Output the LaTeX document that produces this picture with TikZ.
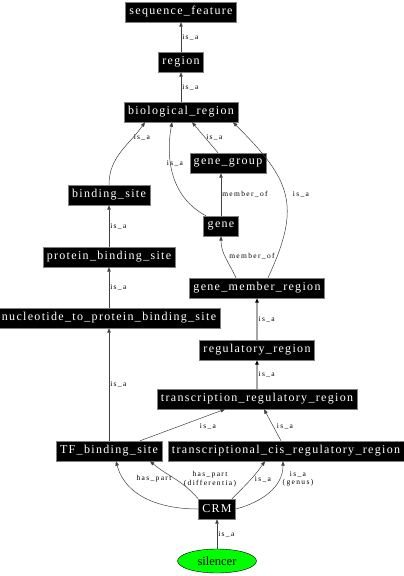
\documentclass[tikz,border=0pt]{standalone}
\usepackage{fontspec}
\setmainfont{Liberation Serif}
\newfontfamily\termfont[LetterSpace=11]{Liberation Serif}
\newfontfamily\relfont[LetterSpace=18]{Liberation Serif}
\usetikzlibrary{arrows.meta,shapes.geometric}

\begin{document}
\begin{tikzpicture}[
    x=1pt, y=-1pt,
    >={Triangle[length=4.5pt,width=3.5pt]},
    term/.style={fill=black, draw=gray, text=white, font=\termfont\fontsize{12}{14}\selectfont,
      inner xsep=4pt, inner ysep=0pt, minimum height=20pt},
    leaf/.style={ellipse, fill=green, draw=black, text=black, font=\rmfamily\fontsize{12.5}{14}\selectfont,
      minimum width=79pt, minimum height=24pt, inner sep=0pt},
    lab/.style={font=\relfont\fontsize{7.5}{8.5}\selectfont, inner sep=1pt, align=center},
    edge/.style={->, draw=black!75, line width=0.5pt},
    hiedge/.style={-{Triangle[length=4.5pt,width=3.5pt,black]}, draw=black!35, line width=1.4pt}
  ]
    \useasboundingbox (0,0) rectangle (404,576);
    % terms
    \node[term] (sf) at (181,12) {sequence\_feature};
    \node[term] (reg) at (181,62) {region};
    \node[term] (bio) at (181,112) {biological\_region};
    \node[term] (bs) at (109,195) {binding\_site};
    \node[term] (gg) at (228,163) {gene\_group};
    \node[term] (gene) at (221,226) {gene};
    \node[term] (pbs) at (109,257) {protein\_binding\_site};
    \node[term] (gmr) at (257,288) {gene\_member\_region};
    \node[term] (ntpbs) at (109,318) {nucleotide\_to\_protein\_binding\_site};
    \node[term] (rr) at (257,350) {regulatory\_region};
    \node[term] (trr) at (257,399) {transcription\_regulatory\_region};
    \node[term] (tfbs) at (109,451) {TF\_binding\_site};
    \node[term] (tcrr) at (286,451) {transcriptional\_cis\_regulatory\_region};
    \node[term] (crm) at (217,509) {CRM};
    \node[leaf] (sil) at (217,561) {silencer};
    % relations
    \draw[edge] (reg) -- node[lab,right]{is\_a} (sf);
    \draw[edge] (bio) -- node[lab,right]{is\_a} (reg);
    \draw[edge] (bs.north) to[out=90,in=-125] node[lab,pos=.75,right]{is\_a} ([xshift=-36pt]bio.south);
    \draw[edge] ([xshift=-15pt]gene.north) to[out=152,in=-100] ([xshift=-9pt]bio.south)
      node[lab] at (175,163) {is\_a};
    \draw[edge] ([xshift=-10pt]gg.north) -- node[lab,midway,right]{is\_a} ([xshift=11pt]bio.south);
    \draw[edge] ([xshift=11pt]gmr.north) to[out=65,in=-45,looseness=1.3] ([xshift=52pt]bio.south)
      node[lab] at (301,194) {is\_a};
    \draw[edge] (gene.north) -- node[lab,right]{member\_of} (gene.north |- gg.south);
    \draw[edge] ([xshift=-21pt]gmr.north) to[out=115,in=-90] (gene.south)
      node[lab] at (252,256) {member\_of};
    \draw[edge] (pbs) -- node[lab,right]{is\_a} (bs);
    \draw[edge] (ntpbs) -- node[lab,right]{is\_a} (pbs);
    \draw[edge] (tfbs) -- node[lab,right]{is\_a} (ntpbs);
    \draw[hiedge] (rr) -- node[lab,right]{is\_a} (gmr);
    \draw[hiedge] (trr) -- node[lab,right]{is\_a} (rr);
    \draw[edge] ([xshift=31pt]tfbs.north) -- ([xshift=-32pt]trr.south)
      node[lab] at (208,426) {is\_a};
    \draw[edge] ([xshift=-5pt]tcrr.north) -- ([xshift=7pt]trr.south)
      node[lab] at (285,426) {is\_a};
    \draw[edge] (crm.west) to[out=180,in=-75] ([xshift=7pt]tfbs.south)
      node[lab] at (154,479) {has\_part};
    \draw[edge] (crm.north west) to[out=130,in=-40] ([xshift=41pt]tfbs.south)
      node[lab] at (210,479) {has\_part\\(differentia)};
    \draw[edge] ([xshift=-4pt]crm.north east) to[out=45,in=-125] ([xshift=-21pt]tcrr.south)
      node[lab] at (263,479) {is\_a};
    \draw[edge] (crm.east) to[out=15,in=-90] ([xshift=-3pt]tcrr.south)
      node[lab] at (298,479) {is\_a\\(genus)};
    \draw[edge] (sil) -- node[lab,right]{is\_a} (crm);
\end{tikzpicture}
\end{document}
